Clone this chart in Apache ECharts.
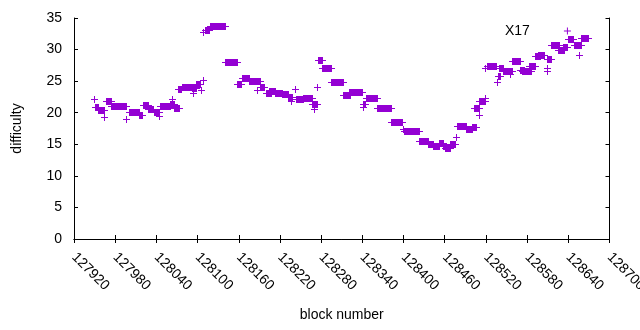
<!DOCTYPE html>
<html>
<head>
<meta charset="utf-8">
<script src="https://cdn.jsdelivr.net/npm/echarts@6/dist/echarts.min.js"></script>
<style>html,body{margin:0;padding:0;background:#fff}#c{width:640px;height:330px}</style>
</head>
<body>
<div id="c"></div>
<script>
// Runs of constant difficulty: first block, last block, difficulty
var runStart = [127950,127951,127955,127965,127968,127974,127997,128001,128015,128021,128028,128037,128045,128046,128060,128063,128067,128072,128078,128094,128092,128099,128106,128108,128109,128111,128119,128141,128158,128166,128176,128191,128188,128201,128205,128213,128223,128232,128237,128242,128244,128254,128268,128270,128275,128276,128282,128295,128313,128322,128341,128341,128346,128362,128383,128400,128401,128423,128437,128444,128452,128458,128461,128469,128477,128478,128492,128501,128504,128510,128511,128519,128520,128522,128537,128538,128540,128545,128556,128559,128570,128574,128584,128592,128596,128609,128609,128610,128616,128625,128633,128640,128649,128657,128659];
var runEnd   = [127950,127955,127965,127965,127974,127996,127997,128015,128020,128028,128036,128045,128045,128060,128067,128063,128073,128077,128092,128094,128099,128104,128106,128108,128109,128118,128141,128158,128164,128176,128191,128198,128188,128208,128213,128223,128232,128238,128237,128242,128254,128268,128274,128270,128275,128282,128295,128313,128323,128340,128345,128341,128362,128383,128399,128400,128423,128437,128444,128452,128458,128463,128469,128476,128477,128492,128501,128506,128510,128510,128519,128519,128520,128536,128537,128541,128545,128558,128556,128570,128576,128586,128592,128599,128605,128609,128609,128615,128627,128634,128639,128647,128659,128657,128669];
var runValue = [22.06,20.87,20.32,19.26,21.75,20.95,18.89,19.96,19.53,21.11,20.48,20.00,19.42,20.95,21.27,22.06,20.64,23.65,24.01,23.12,23.80,24.44,23.53,25.07,32.63,33.07,33.62,28.03,24.52,25.39,24.91,23.96,23.49,23.06,23.41,23.12,22.90,22.38,21.70,23.65,22.06,22.22,21.27,20.48,23.92,28.24,27.08,24.85,22.65,23.27,21.27,20.75,22.33,20.59,18.50,17.39,16.95,15.49,15.00,14.67,15.20,14.67,14.35,14.94,16.00,17.74,17.31,17.71,20.68,19.53,21.75,22.30,26.97,27.34,24.71,25.70,27.02,26.54,26.02,28.19,26.70,26.50,27.24,28.87,29.03,27.08,26.58,28.44,30.69,29.82,30.30,31.52,30.57,29.08,31.72];

var seriesName = 'X17';
var xMin = 127920, xMax = 128700, xStep = 60;
var yMin = 0, yMax = 35, yStep = 5;
var xTitle = 'block number';
var yTitle = 'difficulty';

var COLOR = '#9400d3';
var FONT = 'Liberation Sans';

var data = [];
for (var i = 0; i < runStart.length; i++) data.push([runStart[i], runEnd[i], runValue[i]]);

var chart = echarts.init(document.getElementById('c'), null, {renderer: 'canvas'});
var lineStyle = {color: '#000', width: 1};
var tickStyle = {show: true, inside: true, length: 4, lineStyle: {color: '#000', width: 1}};
chart.setOption({
  animation: false,
  backgroundColor: '#fff',
  grid: {left: 74, right: 30.5, top: 18, bottom: 91, outerBoundsMode: 'none', containLabel: false},
  legend: {
    data: [{name: seriesName, icon: 'path://M0,3h0.01v0.01h-0.01z M29,3h7v1h-7z M32,0h1v7h-1z'}],
    align: 'right',
    left: 505, top: 24, padding: 0,
    itemWidth: 36, itemHeight: 7,
    selectedMode: false,
    textStyle: {fontFamily: FONT, fontSize: 14, color: '#000'}
  },
  xAxis: [{
    type: 'value', min: xMin, max: xMax, interval: xStep, position: 'bottom',
    name: xTitle, nameLocation: 'middle', nameGap: 69,
    nameTextStyle: {fontFamily: FONT, fontSize: 14, color: '#000'},
    axisLine: {show: true, lineStyle: lineStyle},
    axisTick: tickStyle,
    splitLine: {show: false},
    axisLabel: {rotate: -45, margin: 16, fontFamily: FONT, fontSize: 14, color: '#000',
      showMinLabel: true, showMaxLabel: true, hideOverlap: false,
      formatter: function (v) { return String(v); }}
  }, {
    type: 'value', min: xMin, max: xMax, interval: xStep, position: 'top',
    axisLine: {show: true, lineStyle: lineStyle},
    axisTick: tickStyle, splitLine: {show: false}, axisLabel: {show: false}
  }],
  yAxis: [{
    type: 'value', min: yMin, max: yMax, interval: yStep, position: 'left',
    name: yTitle, nameLocation: 'middle', nameGap: 50,
    nameTextStyle: {fontFamily: FONT, fontSize: 14, color: '#000'},
    axisLine: {show: true, lineStyle: lineStyle},
    axisTick: tickStyle, splitLine: {show: false},
    axisLabel: {margin: 12, fontFamily: FONT, fontSize: 14, color: '#000'}
  }, {
    type: 'value', min: yMin, max: yMax, interval: yStep, position: 'right',
    axisLine: {show: true, lineStyle: lineStyle},
    axisTick: tickStyle, splitLine: {show: false}, axisLabel: {show: false}
  }],
  series: [{
    name: seriesName,
    type: 'custom',
    xAxisIndex: 0, yAxisIndex: 0,
    itemStyle: {color: COLOR},
    silent: true,
    encode: {x: [0, 1], y: 2},
    data: data,
    renderItem: function (params, api) {
      var v = api.value(2);
      var p1 = api.coord([api.value(0), v]);
      var p2 = api.coord([api.value(1), v]);
      var x1 = Math.floor(p1[0]), x2 = Math.floor(p2[0]), y = Math.floor(p1[1]);
      return {type: 'group', children: [
        {type: 'rect', shape: {x: x1, y: y - 3, width: x2 - x1 + 1, height: 7}, style: {fill: COLOR}},
        {type: 'rect', shape: {x: x1 - 3, y: y, width: x2 - x1 + 7, height: 1}, style: {fill: COLOR}}
      ]};
    }
  }]
});
</script>
</body>
</html>
